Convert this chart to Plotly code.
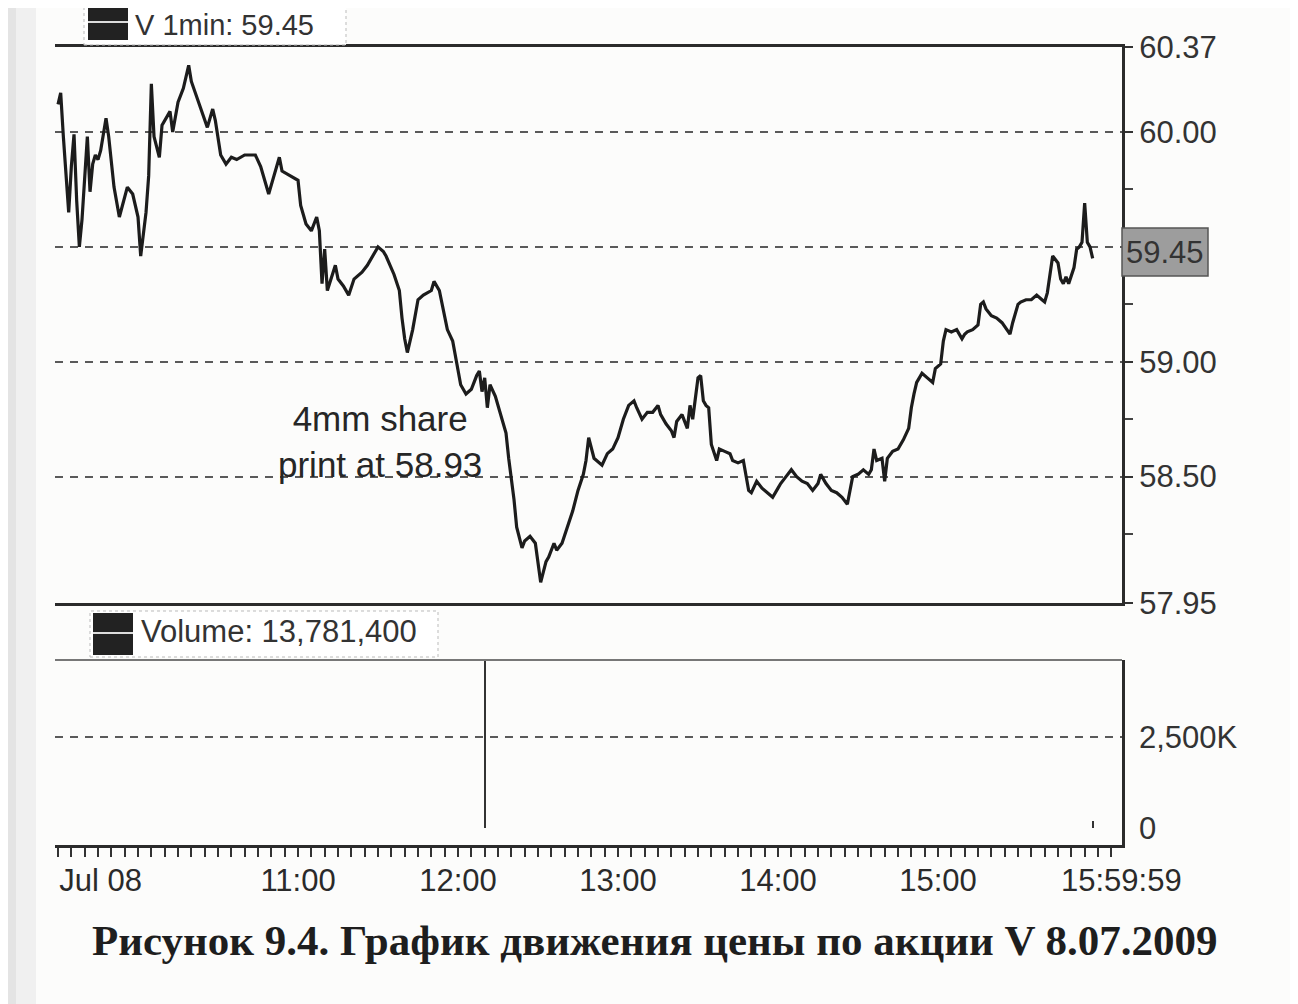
import plotly.graph_objects as go

# ---------------- data ----------------
DAY = "2009-07-08"

price_times = [
    "09:30", "09:31", "09:32", "09:33", "09:34", "09:35", "09:36", "09:37", "09:38", "09:39",
    "09:40", "09:41", "09:42", "09:43", "09:44", "09:45", "09:46", "09:47", "09:48", "09:49",
    "09:51", "09:53", "09:56", "09:58", "10:00", "10:01", "10:03", "10:04", "10:05", "10:06",
    "10:08", "10:09", "10:12", "10:13", "10:15", "10:17", "10:19", "10:20", "10:22", "10:24",
    "10:26", "10:28", "10:29", "10:31", "10:33", "10:35", "10:37", "10:40", "10:44", "10:46",
    "10:49", "10:51", "10:53", "10:54", "10:57", "11:00", "11:01", "11:03", "11:05", "11:07",
    "11:08", "11:09", "11:10", "11:11", "11:14", "11:15", "11:17", "11:19", "11:21", "11:24",
    "11:26", "11:28", "11:30", "11:32", "11:33", "11:36", "11:38", "11:39", "11:40", "11:41",
    "11:43", "11:45", "11:47", "11:50", "11:51", "11:53", "11:54", "11:56", "11:58", "12:00",
    "12:01", "12:03", "12:05", "12:07", "12:08", "12:09", "12:10", "12:11", "12:12", "12:14",
    "12:16", "12:18", "12:19", "12:20", "12:21", "12:22", "12:24", "12:25", "12:27", "12:29",
    "12:30", "12:31", "12:33", "12:34", "12:36", "12:37", "12:39", "12:41", "12:43", "12:45",
    "12:47", "12:48", "12:49", "12:51", "12:52", "12:54", "12:56", "12:58", "13:00", "13:02",
    "13:04", "13:06", "13:07", "13:09", "13:11", "13:13", "13:15", "13:16", "13:18", "13:20",
    "13:21", "13:22", "13:24", "13:26", "13:27", "13:28", "13:30", "13:31", "13:32", "13:33",
    "13:34", "13:35", "13:37", "13:38", "13:40", "13:42", "13:43", "13:45", "13:47", "13:48",
    "13:49", "13:50", "13:52", "13:54", "13:56", "13:58", "14:00", "14:01", "14:03", "14:05",
    "14:07", "14:09", "14:11", "14:13", "14:15", "14:16", "14:18", "14:20", "14:22", "14:24",
    "14:26", "14:27", "14:28", "14:30", "14:32", "14:34", "14:35", "14:36", "14:37", "14:39",
    "14:40", "14:41", "14:43", "14:45", "14:47", "14:49", "14:50", "14:51", "14:52", "14:53",
    "14:54", "14:56", "14:58", "14:59", "15:01", "15:02", "15:03", "15:05", "15:07", "15:09",
    "15:10", "15:11", "15:13", "15:15", "15:16", "15:17", "15:18", "15:20", "15:22", "15:24",
    "15:26", "15:27", "15:28", "15:30", "15:31", "15:33", "15:35", "15:37", "15:39", "15:40",
    "15:41", "15:42", "15:43", "15:45", "15:46", "15:47", "15:48", "15:49", "15:51", "15:52",
    "15:53", "15:54", "15:55", "15:56", "15:57", "15:58",
]
prices = [
    60.12, 60.17, 59.98, 59.80, 59.65, 59.85, 59.99, 59.70, 59.50, 59.62,
    59.80, 59.98, 59.74, 59.86, 59.90, 59.88, 59.92, 60.00, 60.06, 59.98,
    59.76, 59.63, 59.76, 59.73, 59.63, 59.46, 59.65, 59.81, 60.21, 59.98,
    59.89, 60.03, 60.09, 60.00, 60.13, 60.19, 60.29, 60.22, 60.15, 60.09,
    60.02, 60.10, 60.05, 59.90, 59.86, 59.89, 59.88, 59.90, 59.90, 59.85,
    59.73, 59.81, 59.89, 59.83, 59.81, 59.79, 59.68, 59.60, 59.57, 59.63,
    59.57, 59.34, 59.49, 59.31, 59.42, 59.36, 59.33, 59.29, 59.36, 59.39,
    59.42, 59.46, 59.50, 59.48, 59.46, 59.38, 59.31, 59.19, 59.10, 59.04,
    59.14, 59.27, 59.29, 59.31, 59.35, 59.31, 59.25, 59.14, 59.09, 58.97,
    58.90, 58.86, 58.88, 58.94, 58.96, 58.87, 58.93, 58.80, 58.90, 58.85,
    58.77, 58.69, 58.58, 58.50, 58.40, 58.28, 58.19, 58.22, 58.24, 58.21,
    58.13, 58.04, 58.13, 58.15, 58.21, 58.18, 58.21, 58.28, 58.35, 58.44,
    58.51, 58.57, 58.67, 58.58, 58.57, 58.55, 58.60, 58.62, 58.67, 58.75,
    58.81, 58.83, 58.80, 58.75, 58.78, 58.78, 58.81, 58.77, 58.73, 58.70,
    58.67, 58.74, 58.77, 58.71, 58.81, 58.75, 58.93, 58.94, 58.83, 58.81,
    58.80, 58.64, 58.57, 58.62, 58.61, 58.60, 58.57, 58.56, 58.57, 58.51,
    58.44, 58.43, 58.48, 58.45, 58.43, 58.41, 58.45, 58.47, 58.50, 58.53,
    58.50, 58.48, 58.47, 58.44, 58.47, 58.51, 58.47, 58.44, 58.43, 58.41,
    58.38, 58.44, 58.50, 58.51, 58.53, 58.51, 58.53, 58.62, 58.57, 58.58,
    58.48, 58.58, 58.61, 58.62, 58.66, 58.71, 58.80, 58.86, 58.91, 58.93,
    58.95, 58.93, 58.91, 58.97, 58.99, 59.09, 59.14, 59.13, 59.14, 59.10,
    59.12, 59.13, 59.14, 59.16, 59.25, 59.26, 59.23, 59.20, 59.19, 59.17,
    59.14, 59.12, 59.17, 59.25, 59.26, 59.27, 59.27, 59.29, 59.27, 59.26,
    59.30, 59.38, 59.46, 59.43, 59.36, 59.34, 59.37, 59.34, 59.41, 59.49,
    59.50, 59.52, 59.69, 59.52, 59.50, 59.45,
]

volume_times = ["12:10", "15:58"]
volume_values = [4650000, 180000]

price_tickvals = [57.95, 58.50, 59.00, 59.50, 60.00, 60.37]
price_ticktext = ["57.95", "58.50", "59.00", "", "60.00", "60.37"]
price_minor_ticks = [58.25, 58.75, 59.25, 59.75]

volume_tickvals = [0, 2500000]
volume_ticktext = ["0", "2,500K"]

time_tickvals = ["09:46", "11:00", "12:00", "13:00", "14:00", "15:00", "16:08:45"]
time_ticktext = ["Jul 08", "11:00", "12:00", "13:00", "14:00", "15:00", "15:59:59"]

legend_price = "V 1min: 59.45"
legend_volume = "Volume: 13,781,400"
last_price_label = "59.45"
note_text = "4mm share<br>print at 58.93"
caption = "Рисунок 9.4. График движения цены по акции V 8.07.2009"

# ---------------- helpers ----------------
# the page body has an 8px margin, so the figure starts at (8, 8) in the window
OFF = 8
W, H = 1298 - OFF, 1004 - OFF


def fx(px):
    return (px - OFF) / W


def fy(py):
    return 1 - (py - OFF) / H


def ts(t):
    return f"{DAY} {t}"


x_range = [ts("09:28:52"), ts("16:09:00")]
x_dom = [fx(55), fx(1122)]
FONT = "Liberation Sans, Arial, Helvetica, sans-serif"
GRID = "#5a5a5a"
INK = "#2b2b2b"

fig = go.Figure()
fig.add_trace(go.Scatter(
    x=[ts(t) for t in price_times], y=prices, mode="lines",
    line=dict(color="#1c1c1c", width=3.2), xaxis="x", yaxis="y",
    hoverinfo="x+y",
))
fig.add_trace(go.Bar(
    x=[ts(t) for t in volume_times], y=volume_values, width=45000,
    marker=dict(color="#333333", line=dict(width=0)), xaxis="x2", yaxis="y2",
))

shapes = [
    # left scan shadow
    dict(type="rect", xref="paper", yref="paper", x0=0, x1=fx(16), y0=0, y1=1,
         fillcolor="#e4e4e4", line=dict(width=0), layer="below"),
    dict(type="rect", xref="paper", yref="paper", x0=fx(16), x1=fx(36), y0=0, y1=1,
         fillcolor="#f0f0f0", line=dict(width=0), layer="below"),
    # volume 2,500K gridline
    dict(type="line", xref="x2 domain", yref="y2", x0=0, x1=1,
         y0=volume_tickvals[1], y1=volume_tickvals[1],
         line=dict(color=GRID, width=2, dash="8px,7px")),
    # volume top border
    dict(type="line", xref="x2 domain", yref="y2 domain", x0=0, x1=1, y0=1, y1=1,
         line=dict(color="#777", width=2)),
    # legend box price
    dict(type="rect", xref="paper", yref="paper", x0=fx(84), x1=fx(346), y0=fy(45), y1=fy(6),
         fillcolor="rgba(255,255,255,0.9)", line=dict(color="#bbb", width=1, dash="dot")),
    dict(type="rect", xref="paper", yref="paper", x0=fx(88), x1=fx(128), y0=fy(40), y1=fy(7),
         fillcolor="#222", line=dict(width=0)),
    dict(type="line", xref="paper", yref="paper", x0=fx(88), x1=fx(128), y0=fy(22), y1=fy(22),
         line=dict(color="#ddd", width=2)),
    # legend box volume
    dict(type="rect", xref="paper", yref="paper", x0=fx(90), x1=fx(438), y0=fy(657), y1=fy(611),
         fillcolor="rgba(255,255,255,0.9)", line=dict(color="#bbb", width=1, dash="dot")),
    dict(type="rect", xref="paper", yref="paper", x0=fx(93), x1=fx(133), y0=fy(655), y1=fy(613),
         fillcolor="#222", line=dict(width=0)),
    dict(type="line", xref="paper", yref="paper", x0=fx(93), x1=fx(133), y0=fy(633), y1=fy(633),
         line=dict(color="#ddd", width=2)),
    # last-price box
    dict(type="rect", xref="paper", yref="paper", x0=fx(1122), x1=fx(1208), y0=fy(276), y1=fy(228),
         fillcolor="#9d9d9d", line=dict(color="#555", width=1.5)),
]

annotations = [
    dict(text=legend_price, x=fx(134), y=fy(25), xref="paper", yref="paper",
         xanchor="left", yanchor="middle", showarrow=False, borderpad=0,
         font=dict(family=FONT, size=29, color="#333")),
    dict(text=legend_volume, x=fx(139), y=fy(631), xref="paper", yref="paper",
         xanchor="left", yanchor="middle", showarrow=False,
         font=dict(family=FONT, size=31, color="#333")),
    dict(text=last_price_label, x=fx(1165), y=fy(253), xref="paper", yref="paper",
         xanchor="center", yanchor="middle", showarrow=False,
         font=dict(family=FONT, size=31, color="#333")),
    dict(text=note_text, x=fx(380), y=fy(441), xref="paper", yref="paper",
         xanchor="center", yanchor="middle", showarrow=False, align="center",
         font=dict(family=FONT, size=35, color="#262626")),
    dict(text=f"<b>{caption}</b>", x=fx(655), y=fy(940), xref="paper", yref="paper",
         xanchor="center", yanchor="middle", showarrow=False,
         font=dict(family="Liberation Serif, Times New Roman, serif", size=43, color="#1e1e1e")),
]

fig.update_layout(
    width=W, height=H,
    margin=dict(l=0, r=0, t=0, b=0, autoexpand=False),
    paper_bgcolor="#fcfcfb", plot_bgcolor="rgba(0,0,0,0)",
    showlegend=False, bargap=0,
    font=dict(family=FONT, size=31, color="#333"),
    shapes=shapes, annotations=annotations,
    xaxis=dict(
        domain=x_dom, anchor="y", type="date", range=x_range, automargin=False,
        showticklabels=False, ticks="", showgrid=False, zeroline=False,
        showline=True, mirror=True, linecolor=INK, linewidth=3,
    ),
    yaxis=dict(
        domain=[fy(603), fy(47)], anchor="x", side="right", range=[57.95, 60.37],
        automargin=False,
        tickmode="array", tickvals=price_tickvals, ticktext=price_ticktext,
        ticks="outside", ticklen=8, tickwidth=2, tickcolor="#333",
        showline=True, linecolor=INK, linewidth=3, zeroline=False,
        showgrid=True, gridcolor=GRID, gridwidth=2, griddash="8px,7px",
        tickfont=dict(family=FONT, size=31, color="#333"),
        minor=dict(tickmode="array", tickvals=price_minor_ticks, ticks="outside",
                   ticklen=8, tickwidth=2, tickcolor="#444", showgrid=False),
    ),
    xaxis2=dict(
        domain=x_dom, anchor="y2", type="date", range=x_range, automargin=False,
        tickmode="array", tickvals=[ts(t) for t in time_tickvals], ticktext=time_ticktext,
        ticks="", showgrid=False, zeroline=False,
        showline=True, linecolor=INK, linewidth=2.5,
        ticklabelstandoff=6,
        tickfont=dict(family=FONT, size=31, color="#2a2a2a"),
        minor=dict(tickmode="linear", tick0=ts("09:30"), dtick=300000, ticks="outside",
                   ticklen=9, tickwidth=2, tickcolor="#333", showgrid=False),
    ),
    yaxis2=dict(
        domain=[fy(845), fy(660)], anchor="x2", side="right", range=[-467000, 4615000],
        automargin=False,
        tickmode="array", tickvals=volume_tickvals, ticktext=volume_ticktext,
        ticks="", ticklabelstandoff=8, showgrid=False, zeroline=False,
        showline=True, linecolor=INK, linewidth=2.5,
        tickfont=dict(family=FONT, size=31, color="#333"),
    ),
)

fig.write_html("out.html")
